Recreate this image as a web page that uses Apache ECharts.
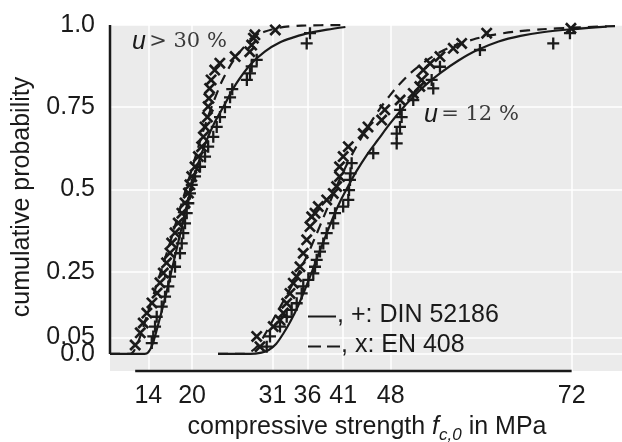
<!DOCTYPE html>
<html><head><meta charset="utf-8">
<script src="https://cdn.jsdelivr.net/npm/echarts@6/dist/echarts.min.js"></script>
<style>html,body{margin:0;padding:0;background:#fff}#c{width:622px;height:442px}</style>
</head><body><div id="c"></div>
<script>
// ---- tick positions / labels ----
const X_TICK_POS = [14, 20, 31, 35.8, 40.7, 47.2, 72];
const X_TICK_LABELS = ['14', '20', '31', '36', '41', '48', '72'];
const Y_TICK_POS = [0, 0.25, 0.5, 0.75, 1.0];
const Y_TICK_LABELS = ['0.0', '0.25', '0.5', '0.75', '1.0'];
const Y_EXTRA_TICK_POS = [0.05];
const Y_EXTRA_TICK_LABELS = ['0.05'];
const X_MIN = 8.75, X_MAX = 78.9, Y_MIN = -0.052, Y_MAX = 1.0;
const X_FRAME = [12.2, 72];
const Y_FRAME = [0, 1];

// ---- fitted distribution curves ----
const wetDinCurve = [[8.75,0],[13.5,0],[14.0,0.005],[14.5,0.025],[15.0,0.06],[15.6,0.11],[16.3,0.17],[17.0,0.235],[18.0,0.33],[19.0,0.425],[20.0,0.515],[21.0,0.59],[22.0,0.65],[23.0,0.70],[24.25,0.75],[26.0,0.82],[28.0,0.88],[30.0,0.92],[32.0,0.947],[34.0,0.963],[36.0,0.976],[38.5,0.986],[41.0,0.994]];
const wetEnCurve = [[8.75,0],[11.5,0],[12.0,0.008],[12.5,0.03],[13.0,0.06],[14.0,0.13],[15.0,0.2],[16.0,0.27],[17.0,0.34],[18.0,0.415],[19.0,0.49],[20.0,0.565],[21.0,0.64],[22.0,0.71],[23.0,0.77],[24.0,0.825],[25.0,0.868],[26.0,0.903],[27.0,0.93],[28.0,0.952],[29.0,0.968],[30.0,0.98],[32.0,0.992],[35.0,0.998],[41.0,1.0]];
const dryDinCurve = [[23.55,0],[28.0,0],[29.5,0.004],[30.5,0.012],[31.5,0.03],[32.5,0.062],[33.5,0.1],[34.5,0.145],[35.5,0.198],[36.5,0.255],[37.5,0.313],[38.5,0.37],[39.5,0.425],[40.5,0.473],[41.5,0.515],[42.5,0.555],[44.0,0.607],[45.5,0.652],[47.0,0.697],[48.5,0.738],[50.0,0.775],[52.0,0.818],[54.0,0.854],[56.5,0.892],[59.0,0.923],[62.0,0.95],[65.0,0.967],[68.0,0.978],[72.0,0.987],[76.8,0.995]];
const dryEnCurve = [[23.55,0],[27.0,0],[28.0,0.006],[29.0,0.025],[30.0,0.06],[31.0,0.1],[32.0,0.14],[33.0,0.18],[34.0,0.222],[35.0,0.265],[36.0,0.31],[37.0,0.362],[38.0,0.415],[39.0,0.468],[40.0,0.52],[41.0,0.567],[42.0,0.61],[43.0,0.65],[44.0,0.687],[45.0,0.722],[46.0,0.754],[47.0,0.783],[48.0,0.81],[50.0,0.855],[52.0,0.89],[54.0,0.918],[56.0,0.938],[58.5,0.956],[61.0,0.969],[64.0,0.979],[68.0,0.987],[72.0,0.992],[78.6,0.997]];

// ---- test results ----
const wetDinPts = [[14.47,0.033],[14.68,0.053],[14.92,0.083],[15.15,0.113],[15.84,0.144],[16.29,0.174],[16.74,0.205],[16.97,0.235],[17.66,0.265],[18.34,0.306],[18.58,0.336],[18.79,0.367],[19.03,0.397],[19.26,0.428],[19.48,0.458],[19.71,0.488],[19.95,0.514],[20.4,0.54],[21.08,0.569],[21.77,0.6],[22.2,0.63],[22.9,0.66],[23.37,0.69],[23.82,0.72],[24.5,0.75],[25.2,0.78],[25.5,0.805],[27.5,0.833],[27.93,0.853],[28.16,0.874],[28.85,0.894],[35.7,0.944],[36.15,0.975]];
const wetEnPts = [[12.2,0.027],[12.9,0.064],[13.3,0.094],[13.8,0.124],[14.5,0.155],[15.2,0.185],[15.6,0.216],[16.05,0.246],[16.5,0.277],[16.97,0.307],[17.2,0.337],[17.66,0.368],[18.1,0.398],[18.6,0.428],[19.03,0.459],[19.5,0.489],[19.7,0.514],[19.95,0.539],[20.4,0.569],[20.86,0.6],[21.3,0.63],[21.54,0.66],[21.77,0.69],[22.1,0.72],[22.2,0.752],[22.3,0.777],[22.4,0.807],[22.6,0.833],[23.1,0.863],[23.8,0.884],[25.9,0.904],[27.9,0.919],[28.16,0.939],[28.4,0.96],[28.6,0.97],[31.4,0.985]];
const dryDinPts = [[30.22,0.022],[30.67,0.053],[32.04,0.083],[32.96,0.113],[33.64,0.134],[34.33,0.154],[35.01,0.184],[35.23,0.205],[35.92,0.225],[36.6,0.245],[36.84,0.265],[37.07,0.286],[37.52,0.311],[37.97,0.336],[38.44,0.367],[39.34,0.397],[39.58,0.428],[40.7,0.448],[41.4,0.468],[41.5,0.498],[41.63,0.529],[41.7,0.549],[41.86,0.58],[44.82,0.61],[48.03,0.64],[48.03,0.67],[48.48,0.69],[48.71,0.72],[48.5,0.742],[50.3,0.772],[53.04,0.807],[52.82,0.833],[53.96,0.873],[59.44,0.924],[69.48,0.944],[71.77,0.975]];
const dryEnPts = [[29.3,0.022],[28.85,0.053],[31.12,0.083],[32.04,0.103],[32.5,0.124],[32.96,0.154],[33.41,0.184],[33.86,0.215],[34.33,0.235],[34.78,0.265],[35.23,0.306],[35.7,0.347],[36.15,0.387],[36.38,0.417],[36.84,0.428],[37.29,0.448],[38.44,0.468],[39.34,0.488],[39.8,0.509],[40.2,0.539],[40.2,0.569],[40.7,0.6],[41.4,0.63],[43.45,0.67],[44.1,0.69],[45.97,0.711],[46.4,0.742],[48.5,0.772],[50.3,0.792],[51.2,0.813],[51.45,0.833],[51.67,0.863],[52.6,0.883],[53.96,0.904],[55.78,0.929],[56.93,0.944],[60.36,0.975],[71.9,0.99]];

const INK = '#1a1a1a';
const SANS = '"Liberation Sans", Arial, sans-serif';
const SERIF = '"DejaVu Serif", "Liberation Serif", serif';
const FS = 25;
const plusPath = 'path://M-1.05,-5.5L1.05,-5.5L1.05,5.5L-1.05,5.5Z M-5.5,-1.05L5.5,-1.05L5.5,1.05L-5.5,1.05Z';
const crossPath = 'path://M-3.9,-5.7L5.7,3.9L3.9,5.7L-5.7,-3.9Z M3.9,-5.7L5.7,-3.9L-3.9,5.7L-5.7,3.9Z';

function lookup(pos, labels) {
  return function (v) {
    for (let i = 0; i < pos.length; i++) if (Math.abs(pos[i] - v) < 1e-6) return labels[i];
    return '';
  };
}

function curve(data, dashed) {
  return {
    type: 'line', data: data, showSymbol: false, symbol: 'none', silent: true,
    smooth: 0.3, clip: false, z: 3,
    lineStyle: { color: INK, width: 2.2, type: dashed ? [10, 7] : 'solid' }
  };
}
function points(data, path, size) {
  return {
    type: 'scatter', data: data, symbol: path, symbolSize: size, silent: true, clip: false, z: 4,
    itemStyle: { color: INK, opacity: 1 }
  };
}
function frame(data) {
  return {
    type: 'line', data: data, showSymbol: false, symbol: 'none', silent: true, clip: false, z: 5,
    lineStyle: { color: INK, width: 2.5 }
  };
}
function yAxisDef(pos, labels) {
  return {
    type: 'value', min: Y_MIN, max: Y_MAX, position: 'left', offset: 0,
    axisLine: { show: false },
    axisTick: { show: false, customValues: pos },
    axisLabel: { customValues: pos, formatter: lookup(pos, labels), fontSize: FS, color: INK, fontFamily: SANS, margin: 15, showMinLabel: true, showMaxLabel: true, hideOverlap: false },
    splitLine: { show: true, lineStyle: { color: '#ffffff', width: 1.5 } }
  };
}

const chart = echarts.init(document.getElementById('c'), null, { renderer: 'canvas' });
chart.setOption({
  animation: false,
  backgroundColor: '#ffffff',
  grid: { left: 110, right: 0, top: 25, bottom: 71, show: true, backgroundColor: '#ebebeb', borderWidth: 0 },
  xAxis: {
    type: 'value', min: X_MIN, max: X_MAX,
    axisLine: { show: false },
    axisTick: { show: false, customValues: X_TICK_POS },
    axisLabel: { customValues: X_TICK_POS, formatter: lookup(X_TICK_POS, X_TICK_LABELS), fontSize: FS, color: INK, fontFamily: SANS, margin: 13, showMinLabel: true, showMaxLabel: true, hideOverlap: false },
    splitLine: { show: true, lineStyle: { color: '#ffffff', width: 1.5 } }
  },
  yAxis: [yAxisDef(Y_TICK_POS, Y_TICK_LABELS), yAxisDef(Y_EXTRA_TICK_POS, Y_EXTRA_TICK_LABELS)],
  series: [
    curve(wetDinCurve, false), curve(wetEnCurve, true),
    curve(dryDinCurve, false), curve(dryEnCurve, true),
    points(wetDinPts, plusPath, 12), points(wetEnPts, crossPath, 12),
    points(dryDinPts, plusPath, 12), points(dryEnPts, crossPath, 12),
    frame([[X_MIN, Y_FRAME[0]], [X_MIN, Y_FRAME[1]]]),
    frame([[X_FRAME[0], Y_MIN], [X_FRAME[1], Y_MIN]])
  ],
  graphic: [
    { type: 'text', x: 132, y: 42, z: 10, style: {
      text: '{u|u} {s|> 30 %}', verticalAlign: 'middle',
      rich: { u: { fontFamily: SANS, fontStyle: 'italic', fontSize: FS, fill: INK },
              s: { fontFamily: SERIF, fontSize: 21, fill: '#3a3a3a' } } } },
    { type: 'text', x: 424, y: 115, z: 10, style: {
      text: '{u|u} {s|= 12 %}', verticalAlign: 'middle',
      rich: { u: { fontFamily: SANS, fontStyle: 'italic', fontSize: FS, fill: INK },
              s: { fontFamily: SERIF, fontSize: 21, fill: '#3a3a3a' } } } },
    { type: 'line', z: 10, shape: { x1: 308, y1: 316.5, x2: 336, y2: 316.5 }, style: { stroke: INK, lineWidth: 2 } },
    { type: 'text', x: 337, y: 315, z: 10, style: { text: ', +: DIN 52186', fontFamily: SANS, fontSize: FS, fill: INK, verticalAlign: 'middle' } },
    { type: 'line', z: 10, shape: { x1: 308, y1: 346.5, x2: 341, y2: 346.5 }, style: { stroke: INK, lineWidth: 2, lineDash: [13, 6] } },
    { type: 'text', x: 341, y: 345, z: 10, style: { text: ', x: EN 408', fontFamily: SANS, fontSize: FS, fill: INK, verticalAlign: 'middle' } },
    { type: 'text', x: 367, y: 427, z: 10, style: {
      text: '{n|compressive strength }{f|f}{sub|c,0}{n| in MPa}', align: 'center', verticalAlign: 'middle',
      rich: { n: { fontFamily: SANS, fontSize: FS, fill: INK, lineHeight: 34 },
              f: { fontFamily: SANS, fontStyle: 'italic', fontSize: FS, fill: INK, lineHeight: 34 },
              sub: { fontFamily: SANS, fontStyle: 'italic', fontSize: 17, fill: INK, lineHeight: 19, verticalAlign: 'bottom' } } } },
    { type: 'text', x: 22, y: 197, rotation: Math.PI / 2, z: 10, style: {
      text: 'cumulative probability', fontFamily: SANS, fontSize: FS, fill: INK, align: 'center', verticalAlign: 'middle' } }
  ]
});
</script></body></html>
